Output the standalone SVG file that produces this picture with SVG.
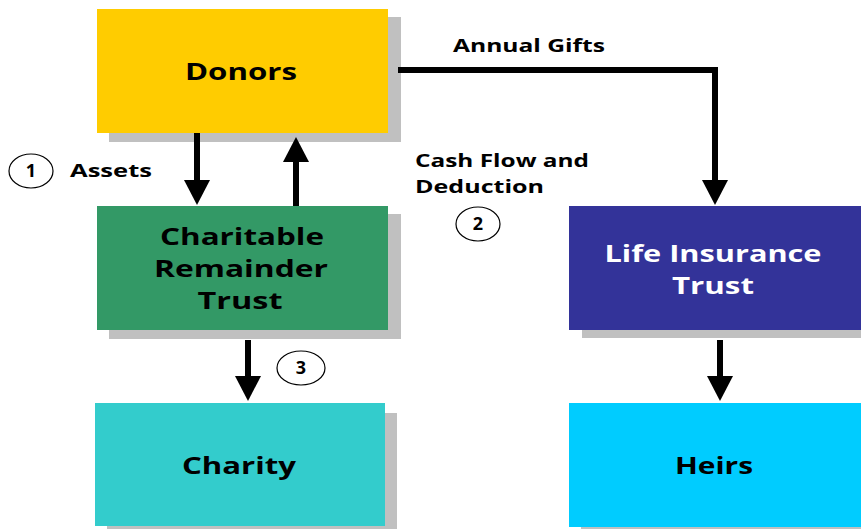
<svg xmlns="http://www.w3.org/2000/svg" width="861" height="529" viewBox="0 0 861 529">
<defs>
<style>
.sh{fill:#c0c0c0}
.big{font-family:"Open Sans","DejaVu Sans",sans-serif;font-weight:700;font-size:24px;text-anchor:middle}
.lbl{font-family:"Open Sans","DejaVu Sans",sans-serif;font-weight:700;font-size:17px}
.num{font-family:"Open Sans","DejaVu Sans",sans-serif;font-weight:700;font-size:18px;text-anchor:middle}
.ln{stroke:#000;stroke-width:6;fill:none}
.hd{fill:#000}
.circ{fill:#fff;stroke:#000;stroke-width:1.2}
</style>
</defs>
<rect width="861" height="529" fill="#fff"/>
<g id="donors">
<rect class="sh" x="109" y="17" width="292" height="125"/>
<rect x="97" y="9" width="291" height="124" fill="#ffcc00"/>
<text class="big" x="241" y="80" textLength="112" lengthAdjust="spacingAndGlyphs">Donors</text>
</g>
<g id="crt">
<rect class="sh" x="109" y="214" width="292" height="125"/>
<rect x="97" y="206" width="291" height="124" fill="#339966"/>
<text class="big" x="242" y="245" textLength="164" lengthAdjust="spacingAndGlyphs">Charitable</text>
<text class="big" x="241" y="277" textLength="174" lengthAdjust="spacingAndGlyphs">Remainder</text>
<text class="big" x="240" y="309" textLength="85" lengthAdjust="spacingAndGlyphs">Trust</text>
</g>
<g id="lit">
<rect class="sh" x="582" y="214" width="292" height="124"/>
<rect x="569" y="206" width="292" height="124" fill="#333399"/>
<text class="big" x="713" y="262" fill="#fff" textLength="217" lengthAdjust="spacingAndGlyphs">Life Insurance</text>
<text class="big" x="713" y="294" fill="#fff" textLength="82" lengthAdjust="spacingAndGlyphs">Trust</text>
</g>
<g id="charity">
<rect class="sh" x="107" y="413" width="290" height="116"/>
<rect x="95" y="403" width="290" height="123" fill="#33cccc"/>
<text class="big" x="239" y="474" textLength="114" lengthAdjust="spacingAndGlyphs">Charity</text>
</g>
<g id="heirs">
<rect class="sh" x="581" y="413" width="290" height="116"/>
<rect x="569" y="403" width="292" height="124" fill="#00ccff"/>
<text class="big" x="714" y="474" textLength="78" lengthAdjust="spacingAndGlyphs">Heirs</text>
</g>
<g id="connectors">
<path class="ln" d="M197 133 V182"/>
<polygon class="hd" points="184,180 210,180 197,205"/>
<path class="ln" d="M296 206 V160"/>
<polygon class="hd" points="283,162 309,162 296,137"/>
<path class="ln" d="M398 70 H715 V182"/>
<polygon class="hd" points="702,180 728,180 715,205"/>
<path class="ln" d="M248 340 V378"/>
<polygon class="hd" points="235,376 261,376 248,401"/>
<path class="ln" d="M720 340 V378"/>
<polygon class="hd" points="707,376 733,376 720,401"/>
</g>
<g id="labels">
<ellipse class="circ" cx="31" cy="171" rx="22" ry="17"/>
<text class="num" x="31" y="177">1</text>
<text class="lbl" x="70" y="177" textLength="82" lengthAdjust="spacingAndGlyphs">Assets</text>
<text class="lbl" x="453" y="52" textLength="152" lengthAdjust="spacingAndGlyphs">Annual Gifts</text>
<text class="lbl" x="415" y="167" textLength="174" lengthAdjust="spacingAndGlyphs">Cash Flow and</text>
<text class="lbl" x="415" y="193" textLength="129" lengthAdjust="spacingAndGlyphs">Deduction</text>
<ellipse class="circ" cx="478" cy="224" rx="22" ry="17"/>
<text class="num" x="478" y="230">2</text>
<ellipse class="circ" cx="301" cy="368" rx="24" ry="17"/>
<text class="num" x="301" y="374">3</text>
</g>
</svg>
